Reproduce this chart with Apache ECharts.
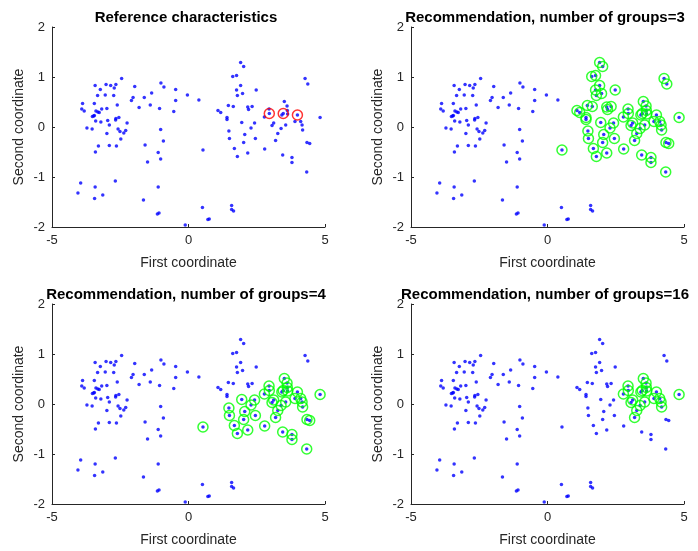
<!DOCTYPE html>
<html>
<head>
<meta charset="utf-8">
<script src="https://cdn.jsdelivr.net/npm/echarts@6/dist/echarts.min.js"></script>
<style>
  html, body { margin: 0; background: #fff; }
  #chart { width: 698px; height: 551px; }
</style>
</head>
<body>
<div id="chart"></div>
<script>
// point coordinates (left cluster first, then right cluster)
const pointX = [
  -2.45, -3.42, -3.02, -2.85, -2.66, -3.23, -2.72, -1.97, -1.01, -0.90,
  -0.47, -0.04, -3.33, -3.05, -2.74, -2.03, -2.09, -1.62, -1.35, -0.47,
  -3.88, -3.45, -2.61, -1.81, -1.40, -1.06, -0.54, -3.91, -3.82, -3.18,
  -2.99, -3.39, -3.32, -3.27, -3.45, -3.52, -3.47, -3.40, -3.21, -2.96,
  -2.90, -2.66, -2.55, -2.67, -2.25, -3.72, -3.53, -2.58, -2.51, -2.30,
  -2.37, -2.99, -1.02, -2.48, -3.30, -2.90, -2.64, -1.59, -0.92, -3.41,
  -1.11, -1.02, -1.50, -2.68, -3.95, -3.42, -1.11, -4.05, -3.14, -3.44,
  -1.65, -1.08, -1.14, -0.12,
  1.91, 2.02, 1.62, 1.76, 4.27, 4.37, 1.91, 1.76, 2.48, 1.79,
  1.98, 0.38, 3.51, 1.46, 1.64, 2.17, 2.20, 2.33, 3.61, 1.08,
  1.18, 2.95, 2.96, 2.78, 3.47, 3.42, 3.62, 3.63, 3.99, 4.82,
  1.41, 1.41, 3.90, 4.11, 1.95, 2.42, 3.12, 3.06, 3.56, 4.16,
  2.29, 3.39, 1.48, 4.18, 2.06, 3.27, 1.50, 2.45, 3.19, 2.02,
  4.34, 4.44, 0.53, 1.68, 2.79, 2.17, 3.45, 1.79, 3.79, 3.79,
  4.33, 0.51, 1.58, 1.58, 1.65, 0.76, 0.71
]
const pointY = [
  0.97, 0.83, 0.85, 0.83, 0.85, 0.75, 0.78, 0.81, 0.88, 0.80,
  0.75, 0.64, 0.63, 0.64, 0.63, 0.59, 0.53, 0.59, 0.68, 0.53,
  0.47, 0.47, 0.44, 0.39, 0.44, 0.37, 0.31, 0.36, 0.32, 0.36,
  0.37, 0.32, 0.30, 0.29, 0.23, 0.21, 0.22, 0.12, 0.10, 0.13,
  0.04, 0.17, 0.19, 0.14, 0.08, -0.02, -0.04, -0.04, -0.09, -0.07,
  -0.12, -0.13, -0.05, -0.24, -0.38, -0.37, -0.38, -0.36, -0.28, -0.50,
  -0.51, -0.64, -0.70, -1.08, -1.12, -1.20, -1.20, -1.32, -1.36, -1.43,
  -1.46, -1.72, -1.74, -1.96,
  1.29, 1.21, 1.01, 1.03, 0.97, 0.86, 0.83, 0.74, 0.74, 0.63,
  0.67, 0.54, 0.51, 0.43, 0.41, 0.40, 0.35, 0.41, 0.42, 0.33,
  0.29, 0.36, 0.27, 0.20, 0.27, 0.24, 0.33, 0.26, 0.24, 0.19,
  0.19, 0.15, 0.11, 0.11, 0.09, 0.08, 0.08, 0.03, 0.04, 0.04,
  -0.02, -0.03, -0.08, -0.06, -0.15, -0.13, -0.23, -0.23, -0.27, -0.31,
  -0.31, -0.33, -0.46, -0.43, -0.44, -0.52, -0.56, -0.59, -0.61, -0.71,
  -0.90, -1.61, -1.57, -1.65, -1.68, -1.84, -1.85
]

// which points get a circle in each panel
const refIdx = [96, 98, 102]
const group3Idx = [
  74, 75, 76, 77, 78, 79, 80, 81, 82, 83, 84, 86, 87, 88, 89, 90, 91, 92, 93, 94,
  95, 96, 97, 98, 99, 100, 101, 102, 103, 104, 105, 106, 107, 108, 109, 110, 111, 112, 113, 114,
  115, 116, 117, 118, 119, 120, 121, 122, 123, 124, 125, 126, 127, 128, 129, 130, 131, 132, 133, 134
]
const group4Idx = [
  86, 92, 95, 96, 97, 98, 99, 100, 101, 102, 103, 106, 107, 108, 109, 110, 111, 112, 113, 114,
  115, 116, 117, 118, 119, 120, 121, 122, 123, 124, 125, 126, 127, 128, 129, 130, 131, 132, 133, 134
]
const group16Idx = [86, 92, 95, 96, 97, 98, 99, 100, 101, 102, 103, 106, 107, 110, 111, 112, 113, 115, 117, 119, 122]

const titles = [
  'Reference characteristics',
  'Recommendation, number of groups=3',
  'Recommendation, number of groups=4',
  'Recommendation, number of groups=16',
]

const font = 'Liberation Sans, Arial, sans-serif'
const axisColor = '#262626'

const panels = [
  { left: 52, top: 27, idx: refIdx, color: '#ff0000' },
  { left: 411, top: 27, idx: group3Idx, color: '#00ff00' },
  { left: 52, top: 304, idx: group4Idx, color: '#00ff00' },
  { left: 411, top: 304, idx: group16Idx, color: '#00ff00' },
]

const allPoints = pointX.map((x, i) => [x, pointY[i]])

const option = {
  animation: false,
  backgroundColor: '#fff',
  title: [],
  grid: [],
  xAxis: [],
  yAxis: [],
  series: [],
}

panels.forEach((p, i) => {
  option.title.push({
    text: titles[i],
    left: p.left + 129,
    top: p.top - 22,
    textAlign: 'center',
    textStyle: { fontFamily: font, fontSize: 15, fontWeight: 'bold', color: '#000' },
  })
  option.grid.push({ left: p.left, top: p.top, width: 273, height: 200 })
  option.xAxis.push({
    gridIndex: i,
    type: 'value',
    min: -5,
    max: 5,
    interval: 5,
    name: 'First coordinate',
    nameLocation: 'middle',
    nameGap: 29,
    nameTextStyle: { fontFamily: font, fontSize: 14, color: axisColor },
    axisLine: { onZero: false, lineStyle: { color: axisColor, width: 1 } },
    axisTick: { inside: true, length: 3, lineStyle: { color: axisColor } },
    axisLabel: { fontFamily: font, fontSize: 13, color: axisColor, margin: 7 },
    splitLine: { show: false },
  })
  option.yAxis.push({
    gridIndex: i,
    type: 'value',
    min: -2,
    max: 2,
    interval: 1,
    name: 'Second coordinate',
    nameLocation: 'middle',
    nameGap: 26,
    nameTextStyle: { fontFamily: font, fontSize: 14, color: axisColor },
    axisLine: { show: true, onZero: false, lineStyle: { color: axisColor, width: 1 } },
    axisTick: { show: true, inside: true, length: 3, lineStyle: { color: axisColor } },
    axisLabel: { fontFamily: font, fontSize: 13, color: axisColor, margin: 7 },
    splitLine: { show: false },
  })
  option.series.push({
    type: 'scatter',
    xAxisIndex: i,
    yAxisIndex: i,
    symbol: 'circle',
    symbolSize: 3.5,
    itemStyle: { color: '#0000ff' },
    data: allPoints,
    silent: true,
  })
  option.series.push({
    type: 'scatter',
    xAxisIndex: i,
    yAxisIndex: i,
    symbol: 'circle',
    symbolSize: 10,
    itemStyle: { color: 'rgba(0,0,0,0)', borderColor: p.color, borderWidth: 1.5 },
    data: p.idx.map(k => allPoints[k]),
    silent: true,
  })
})

const chart = echarts.init(document.getElementById('chart'))
chart.setOption(option)
</script>
</body>
</html>
